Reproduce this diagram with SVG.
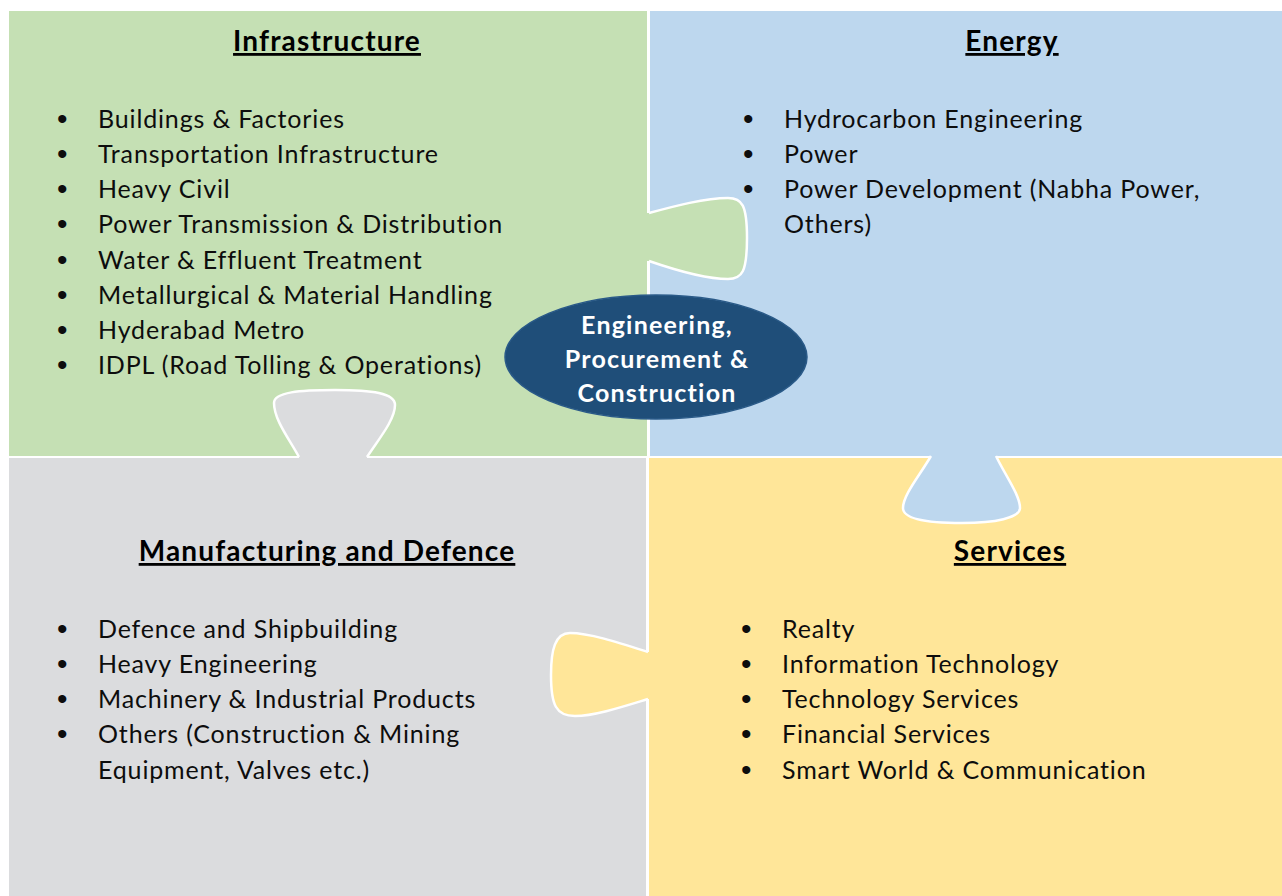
<svg xmlns="http://www.w3.org/2000/svg" width="1282" height="896" viewBox="0 0 1282 896">
<defs>
<style>
.txt{font-family:Lato,"Open Sans","Liberation Sans",sans-serif;font-size:25px;letter-spacing:0.85px;fill:#0d0d0d}
.bl{font-family:"Liberation Sans",sans-serif;font-size:30px;fill:#0d0d0d}
.hd{font-family:Lato,"Open Sans","Liberation Sans",sans-serif;font-size:28px;letter-spacing:1.15px;font-weight:bold;fill:#000;text-decoration:underline;text-anchor:middle}
.ctr{font-family:Lato,"Open Sans","Liberation Sans",sans-serif;font-size:25px;letter-spacing:1.2px;font-weight:bold;fill:#fff;text-anchor:middle}
.edge{fill:none;stroke:#fff;stroke-width:2.5}
</style>
</defs>
<rect width="1282" height="896" fill="#fff"/>
<g id="infrastructure">
<rect x="9" y="11" width="638" height="445" fill="#C5E0B4"/>
<text class="hd" x="327" y="51">Infrastructure</text>
<g class="bl">
<text x="57" y="129">•</text><text x="57" y="164">•</text><text x="57" y="199">•</text><text x="57" y="234">•</text>
<text x="57" y="270">•</text><text x="57" y="305">•</text><text x="57" y="340">•</text><text x="57" y="375">•</text>
</g>
<g class="txt">
<text x="98" y="128">Buildings &amp; Factories</text>
<text x="98" y="163">Transportation Infrastructure</text>
<text x="98" y="198">Heavy Civil</text>
<text x="98" y="233">Power Transmission &amp; Distribution</text>
<text x="98" y="269">Water &amp; Effluent Treatment</text>
<text x="98" y="304">Metallurgical &amp; Material Handling</text>
<text x="98" y="339">Hyderabad Metro</text>
<text x="98" y="374">IDPL (Road Tolling &amp; Operations)</text>
</g>
</g>
<g id="energy">
<rect x="650" y="11" width="632" height="445" fill="#BDD7EE"/>
<text class="hd" x="1012" y="51">Energy</text>
<g class="bl">
<text x="743" y="129">•</text><text x="743" y="164">•</text><text x="743" y="199">•</text>
</g>
<g class="txt">
<text x="784" y="128">Hydrocarbon Engineering</text>
<text x="784" y="163">Power</text>
<text x="784" y="198">Power Development (Nabha Power,</text>
<text x="784" y="233">Others)</text>
</g>
</g>
<g id="manufacturing">
<rect x="9" y="458" width="637" height="438" fill="#DBDCDE"/>
<text class="hd" x="327" y="561">Manufacturing and Defence</text>
<g class="bl">
<text x="57" y="639">•</text><text x="57" y="674">•</text><text x="57" y="709">•</text><text x="57" y="744">•</text>
</g>
<g class="txt">
<text x="98" y="638">Defence and Shipbuilding</text>
<text x="98" y="673">Heavy Engineering</text>
<text x="98" y="708">Machinery &amp; Industrial Products</text>
<text x="98" y="743">Others (Construction &amp; Mining</text>
<text x="98" y="779">Equipment, Valves etc.)</text>
</g>
</g>
<g id="services">
<rect x="649" y="458" width="633" height="438" fill="#FFE699"/>
<text class="hd" x="1010" y="561">Services</text>
<g class="bl">
<text x="741" y="639">•</text><text x="741" y="674">•</text><text x="741" y="709">•</text><text x="741" y="744">•</text><text x="741" y="780">•</text>
</g>
<g class="txt">
<text x="782" y="638">Realty</text>
<text x="782" y="673">Information Technology</text>
<text x="782" y="708">Technology Services</text>
<text x="782" y="743">Financial Services</text>
<text x="782" y="779">Smart World &amp; Communication</text>
</g>
</g>
<g id="tabs">
<path d="M640,213 L649,213 C675,206 705,198 728,198 C742,198 747,205 747,238 C747,272 742,279 728,279 C705,279 675,270 649,261 L640,261 Z" fill="#C5E0B4"/>
<path class="edge" d="M649,213 C675,206 705,198 728,198 C742,198 747,205 747,238 C747,272 742,279 728,279 C705,279 675,270 649,261"/>
<path d="M299,466 L299,457 C290,440 274,420 274,403 C274,392 300,390 335,390 C372,390 395,393 395,405 C395,420 378,440 367,457 L367,466 Z" fill="#DBDCDE"/>
<path class="edge" d="M299,457 C290,440 274,420 274,403 C274,392 300,390 335,390 C372,390 395,393 395,405 C395,420 378,440 367,457"/>
<path d="M931,448 L931,456 C920,475 903,495 903,508 C903,520 930,523 962,523 C995,523 1020,518 1020,508 C1020,495 1005,475 996,456 L996,448 Z" fill="#BDD7EE"/>
<path class="edge" d="M931,456 C920,475 903,495 903,508 C903,520 930,523 962,523 C995,523 1020,518 1020,508 C1020,495 1005,475 996,456"/>
<path d="M656,652 L648,652 C620,643 590,633 570,633 C555,633 551,650 551,675 C551,705 556,716 575,716 C595,716 625,706 648,699 L656,699 Z" fill="#FFE699"/>
<path class="edge" d="M648,652 C620,643 590,633 570,633 C555,633 551,650 551,675 C551,705 556,716 575,716 C595,716 625,706 648,699"/>
</g>
<g id="epc">
<ellipse cx="656" cy="357" rx="151" ry="62" fill="#1F4E79" stroke="#2A5A88" stroke-width="1.5"/>
<text class="ctr" x="657" y="334">Engineering,</text>
<text class="ctr" x="657" y="368">Procurement &amp;</text>
<text class="ctr" x="657" y="402">Construction</text>
</g>
</svg>
